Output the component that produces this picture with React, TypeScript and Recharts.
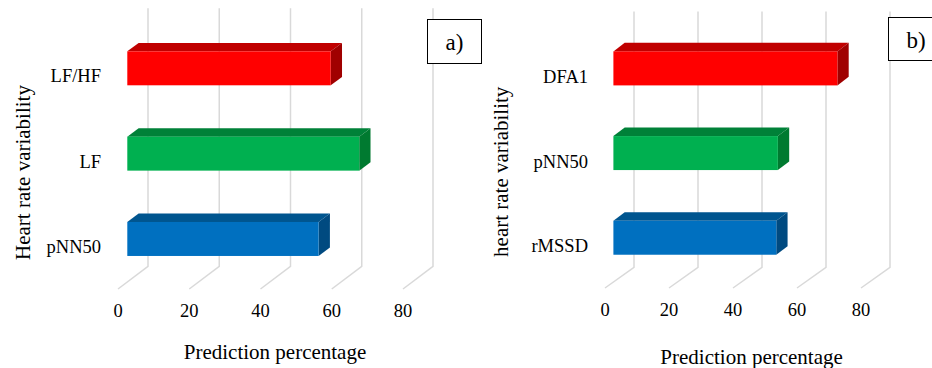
import React from "react";
import { BarChart, Bar, XAxis, YAxis, CartesianGrid } from "recharts";

const categoriesA = ["LF/HF", "LF", "pNN50"];
const valuesA = [57.1, 65.1, 53.7];
const categoriesB = ["DFA1", "pNN50", "rMSSD"];
const valuesB = [70.0, 51.4, 50.9];
const xTicks = [0, 20, 40, 60, 80];

const FONT = "Liberation Serif, DejaVu Serif, serif";

// front / top / side shades, top bar to bottom bar
const shades = [
  { front: "#ff0000", top: "#c00000", side: "#a00000" },
  { front: "#00b050", top: "#008138", side: "#007a30" },
  { front: "#0070c0", top: "#00558f", side: "#004a80" },
];

interface Depth {
  dx: number; // floor depth, horizontal
  dy: number; // floor depth, vertical
  frontDx: number; // bar front face offset from floor front
  frontDy: number;
  barDx: number; // bar thickness
  barDy: number;
}

interface PanelProps {
  categories: string[];
  values: number[];
  yTitle: string;
  tag: string;
  plotLeft: number;
  plotWidth: number;
  plotTop: number;
  xAxisHeight: number;
  tickGap: number;
  yTitleX: number;
  yTitleDy: number;
  xTitleDx: number;
  xTitleY: number;
  depth: Depth;
  box: { left: number; top: number; width: number; height: number };
}

const Prism = (props: any) => {
  const { x, y, width, height, index, depth } = props;
  const s = shades[index % shades.length];
  const fx = x + depth.frontDx;
  const fy = y - depth.frontDy;
  const bx = depth.barDx;
  const by = depth.barDy;
  return (
    <g>
      <polygon
        points={`${fx},${fy} ${fx + width},${fy} ${fx + width + bx},${fy - by} ${fx + bx},${fy - by}`}
        fill={s.top}
      />
      <polygon
        points={`${fx + width},${fy} ${fx + width + bx},${fy - by} ${fx + width + bx},${fy + height - by} ${fx + width},${fy + height}`}
        fill={s.side}
      />
      <rect x={fx} y={fy} width={width} height={height} fill={s.front} />
    </g>
  );
};

const Panel: React.FC<PanelProps> = (p) => {
  const data = p.categories.map((name, i) => ({ name, value: p.values[i] }));
  const d = p.depth;

  const floorLine = (g: any) => (
    <path
      key={g.key}
      d={`M${g.x1},${g.y2} L${g.x1 + d.dx},${g.y2 - d.dy} L${g.x1 + d.dx},${g.y1 - d.dy - 2}`}
      fill="none"
      stroke="#d9d9d9"
      strokeWidth={1.5}
    />
  );

  return (
    <div style={{ position: "relative", width: 466, height: 368 }}>
      <BarChart
        width={466}
        height={368}
        data={data}
        layout="vertical"
        barSize={34}
        margin={{ top: p.plotTop, right: 466 - p.plotLeft - p.plotWidth, left: 0, bottom: 0 }}
      >
        <CartesianGrid horizontal={false} vertical={floorLine} />
        <XAxis
          type="number"
          domain={[0, 80]}
          ticks={xTicks}
          axisLine={false}
          tickLine={false}
          tickSize={0}
          tickMargin={p.tickGap}
          height={p.xAxisHeight}
          tick={{ fill: "#000", fontSize: 18.5, fontFamily: FONT }}
          label={{
            content: (lp: any) => {
              const vb = lp.viewBox;
              return (
                <text
                  x={vb.x + vb.width / 2 + p.xTitleDx}
                  y={p.xTitleY}
                  textAnchor="middle"
                  dominantBaseline="central"
                  fill="#000"
                  fontSize={21}
                  fontFamily={FONT}
                >
                  Prediction percentage
                </text>
              );
            },
          }}
        />
        <YAxis
          type="category"
          dataKey="name"
          width={p.plotLeft}
          axisLine={false}
          tickLine={false}
          tickSize={0}
          tickMargin={17}
          tick={{ fill: "#000", fontSize: 18.5, fontFamily: FONT }}
          label={{
            content: (lp: any) => {
              const vb = lp.viewBox;
              const cx = p.yTitleX;
              const cy = vb.y + vb.height / 2 + p.yTitleDy;
              return (
                <text
                  x={cx}
                  y={cy}
                  transform={`rotate(-90, ${cx}, ${cy})`}
                  textAnchor="middle"
                  dominantBaseline="central"
                  fill="#000"
                  fontSize={21}
                  fontFamily={FONT}
                >
                  {p.yTitle}
                </text>
              );
            },
          }}
        />
        <Bar
          dataKey="value"
          isAnimationActive={false}
          shape={(bp: any) => <Prism {...bp} depth={d} />}
        />
      </BarChart>
      <div
        style={{
          position: "absolute",
          left: p.box.left,
          top: p.box.top,
          width: p.box.width,
          height: p.box.height,
          boxSizing: "border-box",
          border: "1.5px solid #000",
          background: "#fff",
          display: "flex",
          alignItems: "center",
          justifyContent: "center",
          paddingTop: 3,
          fontFamily: FONT,
          fontSize: 23,
          color: "#000",
        }}
      >
        {p.tag}
      </div>
    </div>
  );
};

export default function App() {
  return (
    <div style={{ display: "flex", width: 932, height: 368, overflow: "hidden", background: "#fff" }}>
      <style>{"body{margin:0;background:#fff}"}</style>
      <Panel
        categories={categoriesA}
        values={valuesA}
        yTitle="Heart rate variability"
        tag="a)"
        plotLeft={118}
        plotWidth={285}
        plotTop={33}
        xAxisHeight={79}
        tickGap={15}
        yTitleX={23}
        yTitleDy={11.5}
        xTitleDx={14.5}
        xTitleY={352}
        depth={{ dx: 30, dy: 22.7, frontDx: 9.3, frontDy: 7.7, barDx: 11.3, barDy: 8.4 }}
        box={{ left: 427, top: 19, width: 55, height: 45 }}
      />
      <Panel
        categories={categoriesB}
        values={valuesB}
        yTitle="heart rate variability"
        tag="b)"
        plotLeft={139}
        plotWidth={256}
        plotTop={34}
        xAxisHeight={80}
        tickGap={14.5}
        yTitleX={35}
        yTitleDy={10.8}
        xTitleDx={18.6}
        xTitleY={357}
        depth={{ dx: 29, dy: 20.6, frontDx: 8.4, frontDy: 7.6, barDx: 11.3, barDy: 8.6 }}
        box={{ left: 422, top: 17, width: 56, height: 44 }}
      />
    </div>
  );
}
